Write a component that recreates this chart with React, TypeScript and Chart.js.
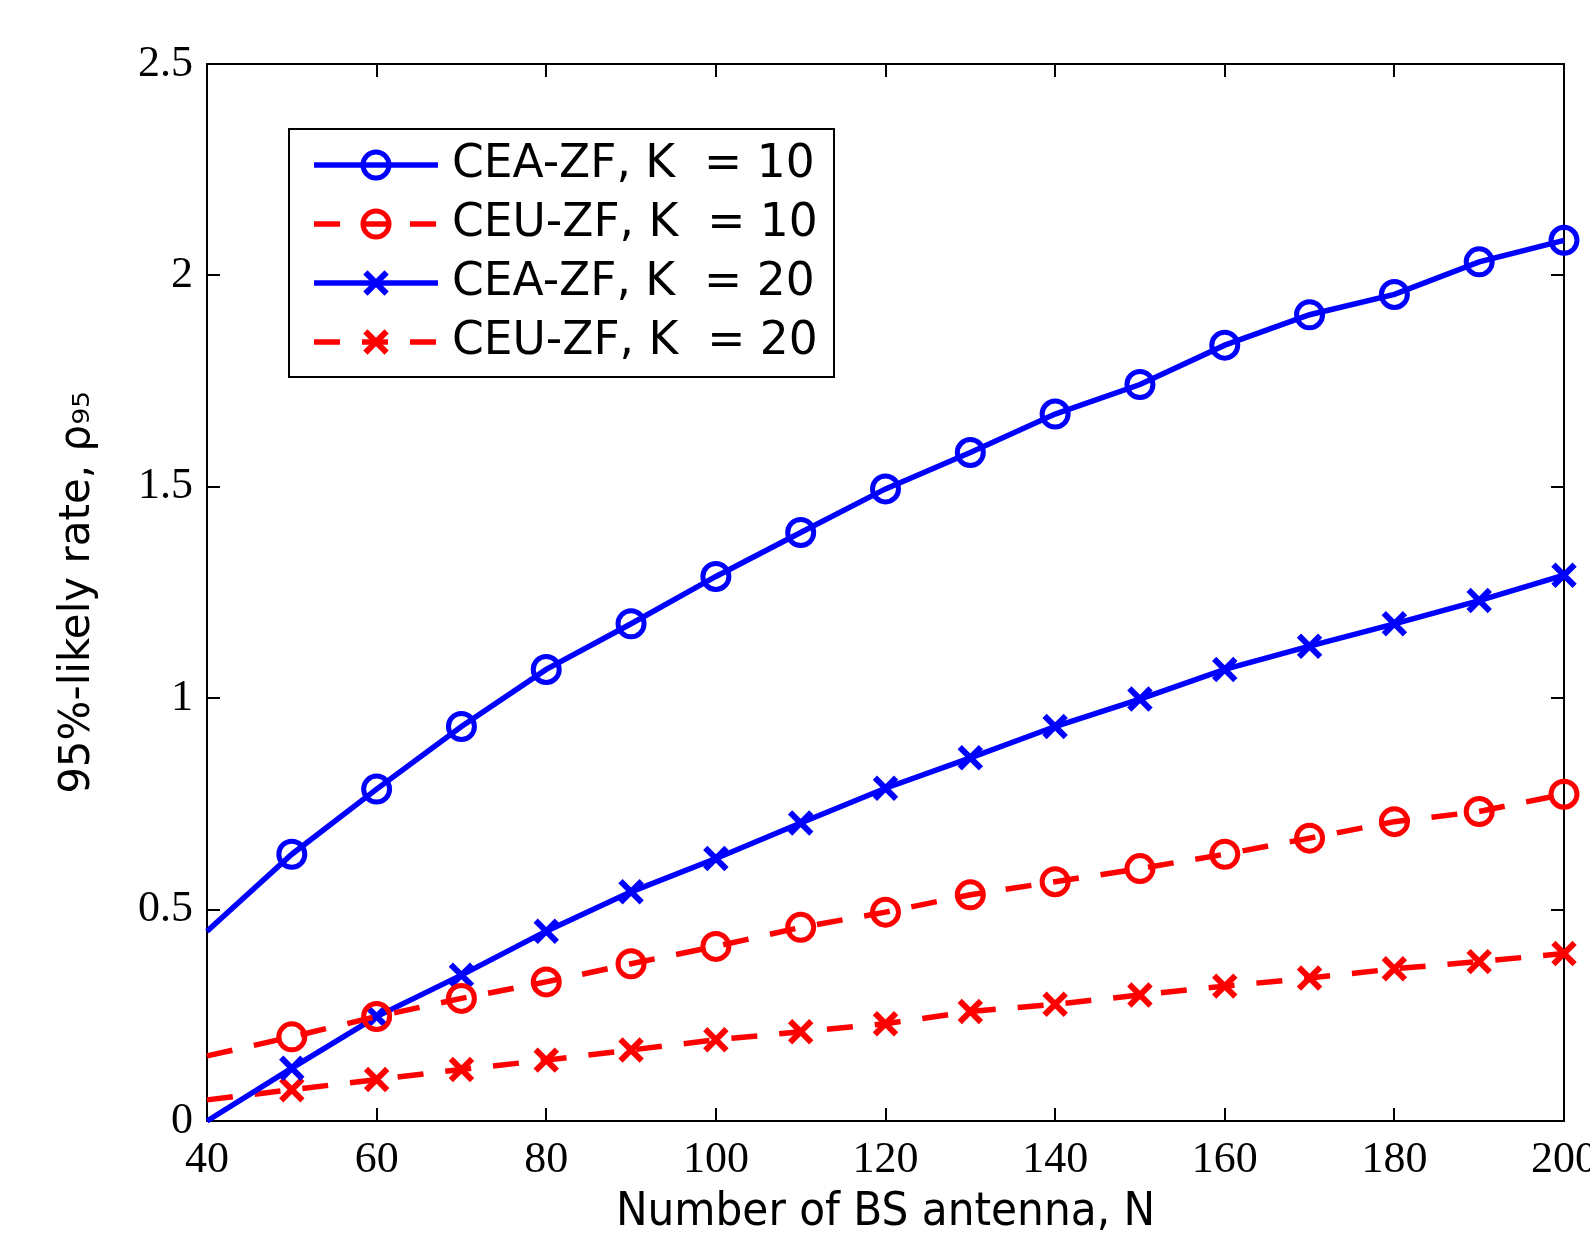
import React, { useEffect, useRef } from "react";
import { Chart, registerables } from "chart.js";

Chart.register(...registerables);

// ---- data ----
const antennaN = [40, 50, 60, 70, 80, 90, 100, 110, 120, 130, 140, 150, 160, 170, 180, 190, 200];
const ceaZfK10 = [0.449, 0.631, 0.785, 0.933, 1.068, 1.176, 1.288, 1.392, 1.495, 1.581, 1.672, 1.742, 1.835, 1.907, 1.955, 2.032, 2.083];
const ceuZfK10 = [0.154, 0.199, 0.247, 0.290, 0.329, 0.372, 0.413, 0.458, 0.494, 0.535, 0.566, 0.597, 0.631, 0.669, 0.708, 0.732, 0.773];
const ceaZfK20 = [0.0, 0.125, 0.247, 0.345, 0.449, 0.542, 0.621, 0.705, 0.787, 0.859, 0.933, 0.998, 1.068, 1.123, 1.176, 1.231, 1.291];
const ceuZfK20 = [0.050, 0.074, 0.098, 0.122, 0.144, 0.168, 0.192, 0.211, 0.230, 0.259, 0.276, 0.298, 0.319, 0.338, 0.360, 0.377, 0.396];
const seriesLabels = ["CEA-ZF, K  = 10", "CEU-ZF, K  = 10", "CEA-ZF, K  = 20", "CEU-ZF, K  = 20"];
const xTickLabels = ["40", "60", "80", "100", "120", "140", "160", "180", "200"];
const yTickLabels = ["0", "0.5", "1", "1.5", "2", "2.5"];
const xTitle = "Number of BS antenna, N";
const yTitle = "95%-likely rate, ρ₉₅";

const BLUE = "#0000ff";
const RED = "#ff0000";
const DASH = [26, 22];

const toPoints = (ys: number[]) => antennaN.map((x, i) => ({ x, y: ys[i] }));

const noMarkerAtEdge = (r: number) => (ctx: any) => (ctx.dataIndex === 0 ? 0 : r);

const frameTicksPlugin = {
  id: "frameTicks",
  beforeDatasetsDraw(chart: any) {
    const { ctx, chartArea, scales } = chart;
    const { left, right, top, bottom } = chartArea;
    const tl = 13;
    ctx.save();
    ctx.strokeStyle = "#000";
    ctx.lineWidth = 2;
    ctx.strokeRect(left, top, right - left, bottom - top);
    ctx.beginPath();
    scales.x.ticks.forEach((t: any) => {
      const px = Math.round(scales.x.getPixelForValue(t.value));
      ctx.moveTo(px, bottom);
      ctx.lineTo(px, bottom - tl);
      ctx.moveTo(px, top);
      ctx.lineTo(px, top + tl);
    });
    scales.y.ticks.forEach((t: any) => {
      const py = Math.round(scales.y.getPixelForValue(t.value));
      ctx.moveTo(left, py);
      ctx.lineTo(left + tl, py);
      ctx.moveTo(right, py);
      ctx.lineTo(right - tl, py);
    });
    ctx.stroke();
    ctx.restore();
  },
};

const legendPlugin = {
  id: "boxLegend",
  afterDatasetsDraw(chart: any) {
    const { ctx } = chart;
    const bx = 289, by = 129, bw = 545, bh = 248;
    const rowY0 = 165, rowStep = 59;
    const lx0 = 314, lx1 = 438, tx = 452;
    ctx.save();
    ctx.fillStyle = "#fff";
    ctx.fillRect(bx, by, bw, bh);
    ctx.strokeStyle = "#000";
    ctx.lineWidth = 2;
    ctx.strokeRect(bx, by, bw, bh);
    chart.data.datasets.forEach((ds: any, i: number) => {
      const y = rowY0 + i * rowStep;
      ctx.save();
      ctx.strokeStyle = ds.borderColor;
      ctx.lineWidth = ds.borderWidth;
      ctx.setLineDash(ds.borderDash || []);
      ctx.beginPath();
      ctx.moveTo(lx0, y);
      ctx.lineTo(lx1, y);
      ctx.stroke();
      ctx.setLineDash([]);
      const cx = (lx0 + lx1) / 2;
      ctx.lineWidth = ds.pointBorderWidth;
      ctx.beginPath();
      if (ds.pointStyle === "circle") {
        ctx.arc(cx, y, ds.legendRadius, 0, Math.PI * 2);
      } else {
        const h = ds.legendRadius * Math.SQRT1_2;
        ctx.moveTo(cx - h, y - h);
        ctx.lineTo(cx + h, y + h);
        ctx.moveTo(cx - h, y + h);
        ctx.lineTo(cx + h, y - h);
      }
      ctx.stroke();
      ctx.restore();
      ctx.fillStyle = "#000";
      ctx.font = "45.5px 'DejaVu Sans'";
      ctx.textBaseline = "middle";
      ctx.textAlign = "left";
      ctx.fillText(ds.label, tx, y);
    });
    ctx.restore();
  },
};

const whiteBg = {
  id: "whiteBg",
  beforeDraw(chart: any) {
    const { ctx, width, height } = chart;
    ctx.save();
    ctx.fillStyle = "#fff";
    ctx.fillRect(0, 0, width, height);
    ctx.restore();
  },
};

export default function App() {
  const ref = useRef<HTMLCanvasElement | null>(null);

  useEffect(() => {
    if (!ref.current) return;
    const mk = (label: string, ys: number[], color: string, dashed: boolean, circle: boolean) => ({
      label,
      data: toPoints(ys),
      borderColor: color,
      backgroundColor: color,
      borderWidth: 5.5,
      borderDash: dashed ? DASH : [],
      pointStyle: circle ? "circle" : "crossRot",
      pointRadius: noMarkerAtEdge(circle ? 13 : 15),
      legendRadius: circle ? 13 : 15,
      pointBorderWidth: circle ? 5 : 6,
      pointBorderColor: color,
      pointBackgroundColor: "rgba(0,0,0,0)",
      tension: 0,
      clip: false,
      fill: false,
    });
    const chart = new Chart(ref.current, {
      type: "line",
      data: {
        datasets: [
          mk(seriesLabels[0], ceaZfK10, BLUE, false, true),
          mk(seriesLabels[1], ceuZfK10, RED, true, true),
          mk(seriesLabels[2], ceaZfK20, BLUE, false, false),
          mk(seriesLabels[3], ceuZfK20, RED, true, false),
        ] as any,
      },
      options: {
        responsive: false,
        animation: false,
        events: [],
        devicePixelRatio: 1,
        layout: { padding: { left: 0, top: 64, right: 76, bottom: 0 } },
        plugins: {
          legend: { display: false },
          tooltip: { enabled: false },
        },
        scales: {
          x: {
            type: "linear",
            min: 40,
            max: 200,
            grid: { display: false, drawTicks: false },
            border: { display: false },
            ticks: {
              stepSize: 20,
              padding: 13,
              color: "#000",
              maxRotation: 0,
              autoSkip: false,
              font: { family: "'Liberation Serif', 'Times New Roman', serif", size: 44 },
              callback: (_v: any, i: number) => xTickLabels[i],
            },
            title: {
              display: true,
              text: xTitle,
              color: "#000",
              font: { family: "'DejaVu Sans Condensed', 'Liberation Sans Narrow', 'DejaVu Sans'", size: 47, lineHeight: 0.96 },
              padding: { top: 0, bottom: -1 },
            },
            afterFit: (s: any) => {
              s.height = 113;
            },
          },
          y: {
            type: "linear",
            min: 0,
            max: 2.5,
            grid: { display: false, drawTicks: false },
            border: { display: false },
            ticks: {
              stepSize: 0.5,
              padding: 14,
              color: "#000",
              autoSkip: false,
              font: { family: "'Liberation Serif', 'Times New Roman', serif", size: 44 },
              callback: (_v: any, i: number) => yTickLabels[i],
            },
            title: {
              display: true,
              text: yTitle,
              color: "#000",
              font: { family: "'DejaVu Sans'", size: 42, lineHeight: 1.2 },
              padding: { top: 53, bottom: 0 },
            },
            afterFit: (s: any) => {
              s.width = 207;
            },
          },
        },
      } as any,
      plugins: [whiteBg, frameTicksPlugin, legendPlugin],
    });
    return () => chart.destroy();
  }, []);

  return (
    <div
      style={{
        position: "fixed",
        left: 0,
        top: 0,
        width: 1590,
        height: 1234,
        overflow: "hidden",
        background: "#fff",
      }}
    >
      <canvas ref={ref} width={1640} height={1234} style={{ display: "block", width: 1640, height: 1234 }} />
    </div>
  );
}
